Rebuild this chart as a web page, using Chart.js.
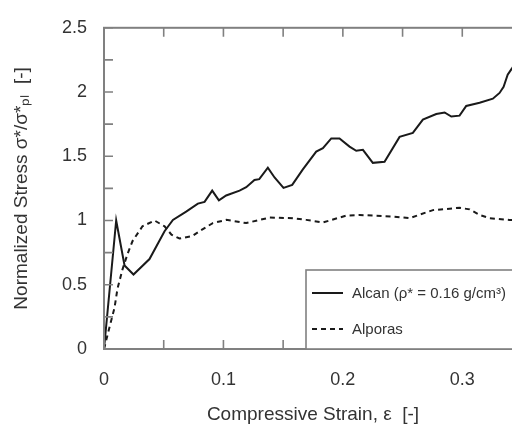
<!DOCTYPE html>
<html>
<head>
<meta charset="utf-8">
<script src="https://cdn.jsdelivr.net/npm/chart.js@4/dist/chart.umd.min.js"></script>
<style>
  html, body { margin: 0; padding: 0; background: #fff; overflow: hidden; width: 512px; height: 426px; }
  #wrap { position: relative; width: 530px; height: 426px; }
</style>
</head>
<body>
<div id="wrap"><canvas id="c" width="530" height="426"></canvas></div>
<script>
// ---- data ----
const alcanLabel = 'Alcan (\u03C1* = 0.16 g/cm\u00B3)';
const alporasLabel = 'Alporas';

const alcanStrain = [0, 0.0102, 0.0172, 0.0247, 0.0381, 0.0507, 0.0577, 0.0688, 0.0786, 0.0842, 0.0906,
  0.0962, 0.1023, 0.1135, 0.1191, 0.126, 0.130, 0.1372, 0.1428, 0.1503, 0.1576, 0.1665, 0.1777, 0.1833,
  0.1903, 0.1972, 0.2056, 0.2112, 0.2168, 0.2251, 0.2349, 0.2475, 0.2586, 0.2670, 0.2782, 0.2852, 0.2908,
  0.2977, 0.3033, 0.3145, 0.3256, 0.3312, 0.3346, 0.338, 0.3413, 0.346];
const alcanStress = [0, 1.00, 0.65, 0.58, 0.70, 0.917, 1.005, 1.069, 1.132, 1.145, 1.233,
  1.157, 1.195, 1.233, 1.259, 1.315, 1.322, 1.411, 1.335, 1.254, 1.277, 1.398, 1.537, 1.563,
  1.639, 1.639, 1.575, 1.543, 1.550, 1.449, 1.457, 1.651, 1.682, 1.786, 1.829, 1.841, 1.809,
  1.816, 1.892, 1.917, 1.948, 1.993, 2.04, 2.135, 2.18, 2.25];

const alporasStrain = [0, 0.0046, 0.0088, 0.0113, 0.0155, 0.0197, 0.0239, 0.0322, 0.0423, 0.0507, 0.0565,
  0.0632, 0.0741, 0.080, 0.0911, 0.1023, 0.1191, 0.1386, 0.1581, 0.1693, 0.1833, 0.2028, 0.2140, 0.2419,
  0.2559, 0.2754, 0.2977, 0.3061, 0.3145, 0.3229, 0.3396, 0.35];
const alporasStress = [0, 0.17, 0.32, 0.47, 0.62, 0.74, 0.84, 0.955, 1.00, 0.955, 0.89,
  0.86, 0.88, 0.917, 0.980, 1.005, 0.980, 1.023, 1.018, 1.005, 0.985, 1.038, 1.043, 1.031,
  1.018, 1.081, 1.099, 1.087, 1.043, 1.018, 1.005, 1.00];

const xTickVals = [0, 0.1, 0.2, 0.3];
const xTickLabels = ['0', '0.1', '0.2', '0.3'];
const yTickVals = [0, 0.5, 1, 1.5, 2, 2.5];
const yTickLabels = ['0', '0.5', '1', '1.5', '2', '2.5'];
const xMinorVals = [0.05, 0.15, 0.25, 0.35];
const yMinorVals = [0.25, 0.75, 1.25, 1.75, 2.25];

const xTitle = 'Compressive Strain, \u03B5  [-]';
const yTitle = 'Normalized Stress \u03C3*/\u03C3*\u209A\u2097  [-]';

// ---- chart ----
const FONT = "'Liberation Sans', Arial, Helvetica, sans-serif";
const TEXT = '#333333';
const FRAME = '#808080';

const toXY = (xs, ys) => xs.map((x, i) => ({ x: x, y: ys[i] }));

const framePlugin = {
  id: 'frame',
  afterDatasetsDraw(chart) {
    const { ctx, chartArea: a, scales: { x, y } } = chart;
    ctx.save();
    ctx.strokeStyle = FRAME;
    ctx.lineWidth = 1.6;
    const TL = 9;
    ctx.beginPath();
    [...xTickVals, ...xMinorVals].forEach(v => {
      const px = x.getPixelForValue(v);
      ctx.moveTo(px, a.bottom); ctx.lineTo(px, a.bottom - TL);
      ctx.moveTo(px, a.top); ctx.lineTo(px, a.top + TL);
    });
    [...yTickVals, ...yMinorVals].forEach(v => {
      const py = y.getPixelForValue(v);
      ctx.moveTo(a.left, py); ctx.lineTo(a.left + TL, py);
      ctx.moveTo(a.right, py); ctx.lineTo(a.right - TL, py);
    });
    ctx.stroke();
    ctx.lineWidth = 2;
    ctx.strokeRect(a.left, a.top, a.right - a.left, a.bottom - a.top);

    // legend box inside plot, lower right
    const lx = 306, ly = 270;
    ctx.fillStyle = '#fff';
    ctx.fillRect(lx, ly, a.right - lx, a.bottom - ly);
    ctx.lineWidth = 1.6;
    ctx.strokeRect(lx, ly, a.right - lx, a.bottom - ly);
    const rows = [293, 329];
    ctx.font = '15px ' + FONT;
    ctx.textBaseline = 'middle';
    ctx.textAlign = 'left';
    chart.data.datasets.forEach((ds, i) => {
      ctx.strokeStyle = ds.borderColor;
      ctx.lineWidth = ds.borderWidth;
      ctx.setLineDash(ds.borderDash || []);
      ctx.beginPath();
      ctx.moveTo(312, rows[i]); ctx.lineTo(343, rows[i]);
      ctx.stroke();
      ctx.setLineDash([]);
      ctx.fillStyle = TEXT;
      ctx.fillText(ds.label, 352, rows[i] + 1);
    });
    ctx.restore();
  }
};

new Chart(document.getElementById('c'), {
  type: 'scatter',
  data: {
    datasets: [
      { label: alcanLabel, data: toXY(alcanStrain, alcanStress), showLine: true,
        borderColor: '#1a1a1a', borderWidth: 2, pointRadius: 0, tension: 0, fill: false },
      { label: alporasLabel, data: toXY(alporasStrain, alporasStress), showLine: true,
        borderColor: '#1a1a1a', borderWidth: 2, borderDash: [5, 4], pointRadius: 0, tension: 0, fill: false }
    ]
  },
  options: {
    responsive: false,
    animation: false,
    devicePixelRatio: 1,
    layout: { padding: { left: 0, top: 20, right: 8, bottom: 0 } },
    plugins: { legend: { display: false }, tooltip: { enabled: false } },
    scales: {
      x: {
        type: 'linear', min: 0, max: 0.35,
        afterBuildTicks: s => { s.ticks = xTickVals.map(v => ({ value: v })); },
        afterFit: s => { s.height = 77; },
        grid: { display: false, drawTicks: false },
        border: { display: false },
        ticks: { padding: 20, color: TEXT, font: { family: FONT, size: 18 },
                 maxRotation: 0, autoSkip: false,
                 callback: (v) => xTickLabels[xTickVals.findIndex(t => Math.abs(t - v) < 1e-9)] },
        title: { display: true, text: xTitle, color: TEXT, font: { family: FONT, size: 19 },
                 padding: { top: 0, bottom: 0 } }
      },
      y: {
        type: 'linear', min: 0, max: 2.5,
        afterBuildTicks: s => { s.ticks = yTickVals.map(v => ({ value: v })); },
        afterFit: s => { s.width = 104; },
        grid: { display: false, drawTicks: false },
        border: { display: false },
        ticks: { padding: 17, color: TEXT, font: { family: FONT, size: 18 },
                 callback: (v) => yTickLabels[yTickVals.findIndex(t => Math.abs(t - v) < 1e-9)] },
        title: { display: true, text: yTitle, color: TEXT, font: { family: FONT, size: 19 },
                 padding: { top: 10, bottom: 0 } }
      }
    }
  },
  plugins: [framePlugin]
});
</script>
</body>
</html>
